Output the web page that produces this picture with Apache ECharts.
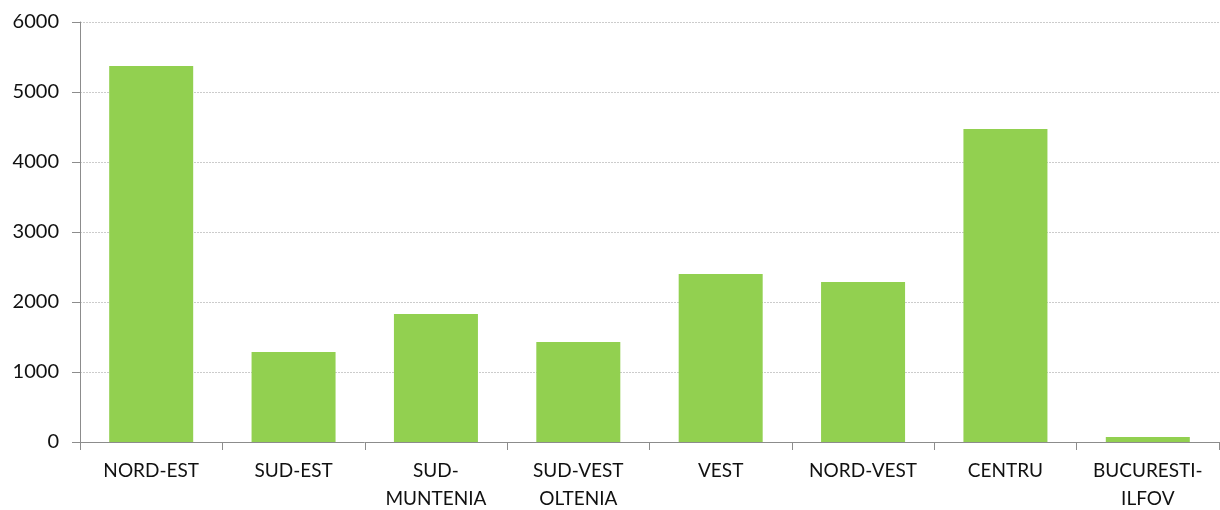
<!DOCTYPE html>
<html>
<head>
<meta charset="utf-8">
<script src="https://cdn.jsdelivr.net/npm/echarts@6/dist/echarts.min.js"></script>
<style>
  html, body { margin: 0; padding: 0; background: #fff; }
  #chart { width: 1220px; height: 510px; }
</style>
</head>
<body>
<div id="chart"></div>
<script>
  var regions = ['NORD-EST', 'SUD-EST', 'SUD-\nMUNTENIA', 'SUD-VEST\nOLTENIA', 'VEST', 'NORD-VEST', 'CENTRU', 'BUCURESTI-\nILFOV'];
  var values = [5370, 1285, 1830, 1430, 2400, 2285, 4470, 70];

  var chart = echarts.init(document.getElementById('chart'));
  var option = {
    animation: false,
    grid: { left: 80, right: 1, top: 22, bottom: 68, containLabel: false, outerBoundsMode: 'none' },
    xAxis: {
      type: 'category',
      data: regions,
      axisLine: { lineStyle: { color: '#8c8c8c', width: 1 } },
      axisTick: { show: true, length: 8, lineStyle: { color: '#8c8c8c' } },
      axisLabel: {
        color: '#111',
        fontFamily: 'Lato',
        fontSize: 19,
        lineHeight: 28,
        margin: 15,
        interval: 0
      }
    },
    yAxis: {
      type: 'value',
      min: 0,
      max: 6000,
      interval: 1000,
      axisLine: { show: true, lineStyle: { color: '#8c8c8c', width: 1 } },
      axisTick: { show: true, length: 8, lineStyle: { color: '#8c8c8c' } },
      axisLabel: {
        color: '#111',
        fontFamily: 'Lato',
        fontSize: 20,
        margin: 21,
        formatter: function (v) { return String(v); }
      },
      splitLine: { lineStyle: { color: '#cccccc', type: [2, 1], width: 1 } }
    },
    series: [{
      type: 'bar',
      data: values,
      barWidth: '59%',
      itemStyle: { color: '#92d050' }
    }]
  };
  chart.setOption(option);
</script>
</body>
</html>
